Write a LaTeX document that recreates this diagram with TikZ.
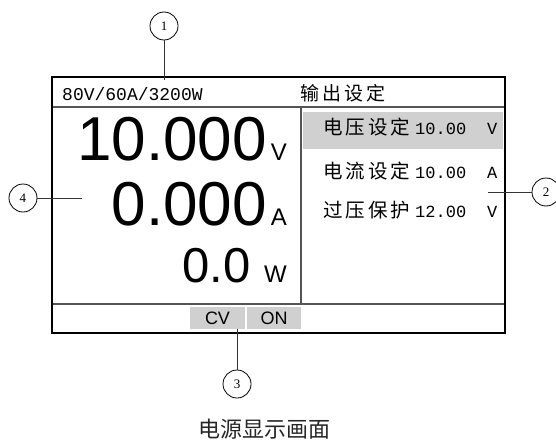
\documentclass[tikz,border=0pt]{standalone}
\usepackage{fontspec}
\setmainfont{Liberation Sans}
\newfontfamily\cjk{Noto Sans CJK SC}
\newfontfamily\monof{Liberation Mono}
\newfontfamily\serif{Liberation Serif}
\definecolor{panelgray}{RGB}{208,208,208}
\definecolor{linegray}{RGB}{85,85,85}
\newcommand{\gp}{\kern3pt}

\begin{document}
\begin{tikzpicture}[x=1pt, y=-1pt,
  frame/.style={draw=black, line width=2pt},
  sep/.style={draw=linegray, line width=1.2pt},
  callout/.style={circle, draw, line width=0.8pt, minimum size=28pt, inner sep=0pt,
                  font=\serif\fontsize{13pt}{13pt}\selectfont},
  lead/.style={draw=black!80, line width=1pt},
  big/.style={anchor=base east, inner sep=0pt, font=\fontsize{62pt}{62pt}\selectfont},
  unit/.style={anchor=base east, inner sep=0pt, font=\fontsize{24pt}{24pt}\selectfont},
  row/.style={anchor=base west, inner sep=0pt, font=\fontsize{17pt}{17pt}\selectfont},
  head/.style={anchor=base west, inner sep=0pt, font=\fontsize{18pt}{18pt}\selectfont},
  tag/.style={fill=panelgray, minimum width=55pt, minimum height=22pt, inner sep=0pt,
              font=\fontsize{18pt}{18pt}\selectfont},
]
\useasboundingbox (0,0) rectangle (556,441);

% screen
\fill[panelgray] (303,112) rectangle (503,149);
\draw[sep] (52,107) -- (505,107);
\draw[sep] (301,107) -- (301,304);
\draw[sep] (52,304) -- (505,304);

\node[tag] (cv) at (217.5,318) {CV};
\node[tag, minimum width=54pt] (on) at (274,318) {ON};

\node[head] (model) at (62,100) {\monof 80V/60A/3200W};
\node[head] (title) at (300,100) {\cjk\fontsize{19pt}{19pt}\selectfont 输\gp 出\gp 设\gp 定};

\node[big] (volt) at (267,160) {10.000};
\node[unit] (voltu) at (287,160) {V};
\node[big] (amp) at (267,225) {0.000};
\node[unit] (ampu) at (287,225) {A};
\node[big, font=\fontsize{49pt}{49pt}\selectfont] (watt) at (251,282) {0.0};
\node[unit] (wattu) at (287,282) {W};

\node[row] (vset) at (323,134)
  {\makebox[92pt][l]{\cjk\fontsize{19.5pt}{19.5pt}\selectfont 电\gp 压\gp 设\gp 定}\makebox[72pt][l]{\monof 10.00}\monof V};
\node[row] (iset) at (323,178)
  {\makebox[92pt][l]{\cjk\fontsize{19.5pt}{19.5pt}\selectfont 电\gp 流\gp 设\gp 定}\makebox[72pt][l]{\monof 10.00}\monof A};
\node[row] (ovp) at (323,217)
  {\makebox[92pt][l]{\cjk\fontsize{19.5pt}{19.5pt}\selectfont 过\gp 压\gp 保\gp 护}\makebox[72pt][l]{\monof 12.00}\monof V};

\draw[frame] (52,77) rectangle (505,333);

% callouts
\node[callout] (c1) at (164,26) {1};
\coordinate (p1) at (164,80);
\draw[lead] (c1) -- (p1);

\node[callout] (c2) at (546,192) {2};
\coordinate (p2) at (488,192);
\draw[lead] (p2) -- (c2);

\node[callout] (c3) at (237,384) {3};
\coordinate (p3) at (237,329);
\draw[lead] (p3) -- (c3);

\node[callout] (c4) at (23,198) {4};
\coordinate (p4) at (82,198);
\draw[lead] (c4) -- (p4);

\node[anchor=base, inner sep=0pt, font=\cjk\fontsize{22pt}{22pt}\selectfont, text=black!85]
  (caption) at (264,437) {电源显示画面};
\end{tikzpicture}
\end{document}
